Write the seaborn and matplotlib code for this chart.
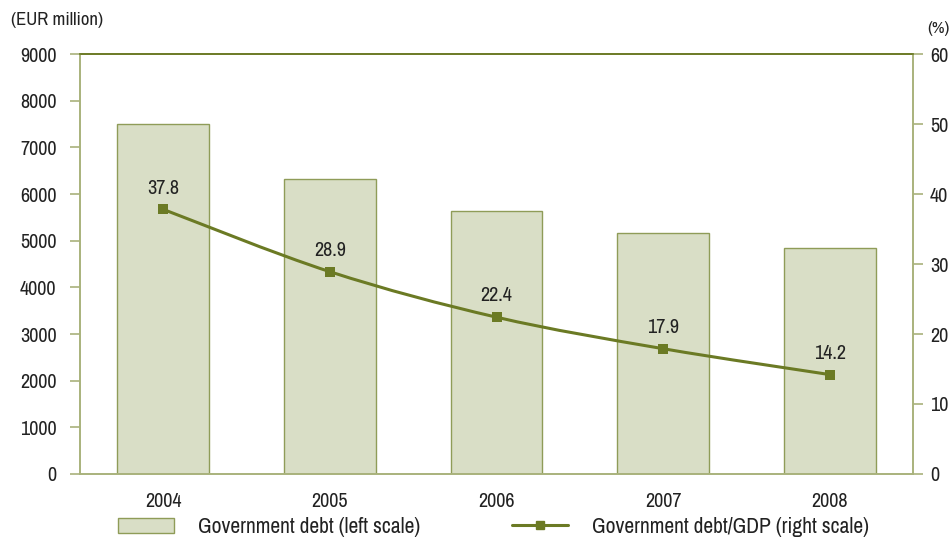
import numpy as np
import pandas as pd
import matplotlib
matplotlib.use("Agg")
import matplotlib.pyplot as plt
from matplotlib.path import Path
from matplotlib.patches import PathPatch, Patch
from matplotlib.lines import Line2D
import seaborn as sns

years = ["2004", "2005", "2006", "2007", "2008"]
debt_eur_million = [7500, 6330, 5640, 5160, 4840]
debt_to_gdp_pct = [37.8, 28.9, 22.4, 17.9, 14.2]

left_ticks = [0, 1000, 2000, 3000, 4000, 5000, 6000, 7000, 8000, 9000]
right_ticks = [0, 10, 20, 30, 40, 50, 60]

BAR_FILL = "#d9dec6"
BAR_EDGE = "#8f9c58"
LINE = "#6b7a24"
SPINE_LIGHT = "#a9b27c"
TEXT = "#222222"
FS = 14.5

sns.set_theme(style="white")
plt.rcParams["font.family"] = ["Archivo Narrow", "DejaVu Sans"]

fig = plt.figure(figsize=(9.5, 5.39), dpi=100)
ax = fig.add_axes([0.0842, 0.1206, 0.877, 0.7792])

df = pd.DataFrame({"year": years, "debt": debt_eur_million, "ratio": debt_to_gdp_pct})
sns.barplot(data=df, x="year", y="debt", ax=ax, width=0.55,
            color=BAR_FILL, saturation=1, edgecolor=BAR_EDGE, linewidth=1.0)
ax.set_xlim(-0.5, len(years) - 0.5)
ax.set_ylim(0, 9000)
ax.set_yticks(left_ticks)
ax.set_xlabel("")
ax.set_ylabel("")

ax2 = ax.twinx()
ax2.set_ylim(0, 60)
ax2.set_yticks(right_ticks)
ax2.set_xlim(ax.get_xlim())

# smooth curve through the ratio points (Catmull-Rom as cubic Bezier segments)
xs = np.arange(len(years), dtype=float)
ys = np.array(debt_to_gdp_pct, dtype=float)
verts = [(xs[0], ys[0])]
codes = [Path.MOVETO]
n = len(xs)
for i in range(n - 1):
    p0 = (xs[max(i - 1, 0)], ys[max(i - 1, 0)])
    p1 = (xs[i], ys[i])
    p2 = (xs[i + 1], ys[i + 1])
    p3 = (xs[min(i + 2, n - 1)], ys[min(i + 2, n - 1)])
    c1 = (p1[0] + (p2[0] - p0[0]) / 6, p1[1] + (p2[1] - p0[1]) / 6)
    c2 = (p2[0] - (p3[0] - p1[0]) / 6, p2[1] - (p3[1] - p1[1]) / 6)
    verts += [c1, c2, p2]
    codes += [Path.CURVE4] * 3
ax2.add_patch(PathPatch(Path(verts, codes), facecolor="none", edgecolor=LINE,
                        linewidth=2.2, zorder=3))
sns.scatterplot(x=xs, y=ys, ax=ax2, marker="s", s=45, color=LINE,
                edgecolor=LINE, linewidth=0, zorder=4, legend=False)
for x, y in zip(xs, ys):
    ax2.text(x, y + 1.7, f"{y:.1f}", ha="center", va="bottom",
             fontsize=FS, color=TEXT)

# spines
for a in (ax, ax2):
    for side in ("left", "right", "bottom"):
        a.spines[side].set_color(SPINE_LIGHT)
        a.spines[side].set_linewidth(1.2)
    a.spines["top"].set_color(LINE)
    a.spines["top"].set_linewidth(1.2)

# ticks
ax.set_xticks(np.arange(len(years)))
ax.set_xticklabels(years)
ax.set_xticks(np.arange(len(years) + 1) - 0.5, minor=True)
ax.tick_params(axis="x", which="major", length=0, pad=13, labelsize=FS, labelcolor=TEXT)
ax.tick_params(axis="x", which="minor", length=7, width=1.2, color=SPINE_LIGHT, direction="out")
ax.tick_params(axis="y", length=7, width=1.2, color=SPINE_LIGHT, direction="out",
               labelsize=FS, labelcolor=TEXT, pad=10, left=True)
ax2.tick_params(axis="y", length=7, width=1.2, color=SPINE_LIGHT, direction="out",
                labelsize=FS, labelcolor=TEXT, pad=5, right=True)
ax2.set_ylabel("")

fig.text(0.012, 0.963, "(EUR million)", fontsize=13.5, color=TEXT, va="center", ha="left")
fig.text(0.976, 0.948, "(%)", fontsize=12.5, color=TEXT, va="center", ha="left")

handles = [
    Patch(facecolor=BAR_FILL, edgecolor=BAR_EDGE, linewidth=1.0,
          label="Government debt (left scale)"),
    Line2D([0], [0], color=LINE, linewidth=2.2, marker="s", markersize=6,
           label="Government debt/GDP (right scale)"),
]
fig.legend(handles=handles, loc="center left", bbox_to_anchor=(118 / 950, 1 - 527 / 539),
           ncol=2, frameon=False, fontsize=15.5, handlelength=2.6, handleheight=0.7,
           handletextpad=1.1, columnspacing=4.3, borderpad=0, borderaxespad=0,
           labelcolor=TEXT)

fig.savefig("out.png", dpi=100)
